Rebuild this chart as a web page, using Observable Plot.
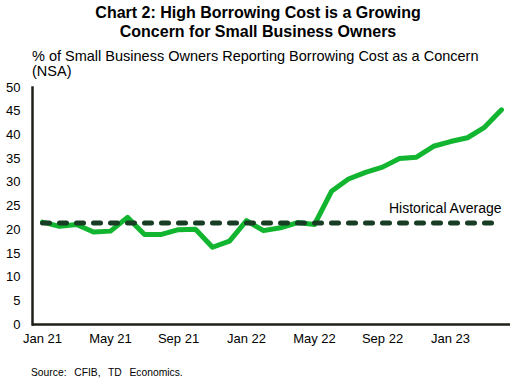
<!DOCTYPE html>
<html>
<head>
<meta charset="utf-8">
<script src="https://cdn.jsdelivr.net/npm/d3@7"></script>
<script src="https://cdn.jsdelivr.net/npm/@observablehq/plot@0.6"></script>
<style>
  html, body { margin: 0; padding: 0; background: #fff; }
  #wrap { position: relative; width: 516px; height: 385px; font-family: Arial, "Liberation Sans", sans-serif; color: #000; }
  #title { position: absolute; left: 0; top: 3px; width: 516px; text-align: center; font-weight: bold; font-size: 16px; line-height: 19px; }
  #subtitle { position: absolute; left: 32px; top: 49px; font-size: 14.5px; line-height: 15.4px; }
  #source { position: absolute; left: 31px; top: 367px; font-size: 10.3px; word-spacing: 1px; }
  #chart { position: absolute; left: 0; top: 0; }
  #chart svg { overflow: visible; }
</style>
</head>
<body>
<div id="wrap">
  <div id="chart"></div>
  <div id="title">Chart 2: High Borrowing Cost is a Growing<br>Concern for Small Business Owners</div>
  <div id="subtitle">% of Small Business Owners Reporting Borrowing Cost as a Concern<br>(NSA)</div>
  <div id="source">Source:&nbsp; CFIB,&nbsp; TD&nbsp; Economics.</div>
</div>
<script>
const months = ["Jan 21","Feb 21","Mar 21","Apr 21","May 21","Jun 21","Jul 21","Aug 21","Sep 21","Oct 21","Nov 21","Dec 21",
                "Jan 22","Feb 22","Mar 22","Apr 22","May 22","Jun 22","Jul 22","Aug 22","Sep 22","Oct 22","Nov 22","Dec 22",
                "Jan 23","Feb 23","Mar 23","Apr 23"];
const borrowingConcern = [21.6,20.7,21.1,19.5,19.7,22.6,19.0,19.0,20.0,20.1,16.3,17.6,
                          21.9,19.8,20.4,21.5,21.1,28.1,30.7,32.1,33.2,35.0,35.3,37.6,
                          38.6,39.4,41.6,45.3];
const historicalAverage = 21.4;
const xTickLabels = ["Jan 21","May 21","Sep 21","Jan 22","May 22","Sep 22","Jan 23"];
const yTicks = [0,5,10,15,20,25,30,35,40,45,50];
const avgLabel = "Historical Average";

const series = months.map((m, i) => ({month: m, value: borrowingConcern[i]}));
const avgSeries = months.map(m => ({month: m, value: historicalAverage}));
const labelData = [{month: months[months.length - 1], value: historicalAverage, label: avgLabel}];

const chart = Plot.plot({
  width: 516,
  height: 385,
  marginLeft: 32,
  marginRight: 6,
  marginTop: 87,
  marginBottom: 61,
  style: {fontFamily: 'Arial, "Liberation Sans", sans-serif', fontSize: "13px", color: "#000", background: "transparent"},
  x: {type: "point", domain: months, padding: 0.5, axis: null, label: null},
  y: {domain: [0, 50], axis: null, label: null},
  marks: [
    Plot.axisY({ticks: yTicks, tickSize: 0, tickPadding: 12, fontSize: 13, fill: "#000", label: null}),
    Plot.axisX({ticks: xTickLabels, tickSize: 0, tickPadding: 9, fontSize: 13, fill: "#000", label: null}),
    Plot.lineY(series, {x: "month", y: "value", stroke: "#12b52f", strokeWidth: 5, strokeLinejoin: "round", strokeLinecap: "round"}),
    Plot.lineY(avgSeries, {x: "month", y: "value", stroke: "#173d25", strokeWidth: 5, strokeDasharray: "7,10", strokeLinecap: "round"}),
    Plot.text(labelData, {x: "month", y: "value", text: "label", textAnchor: "end", dy: -15, fontSize: 14, fill: "#000"}),
    Plot.ruleY([0], {stroke: "#1c1f17", strokeWidth: 2.5}),
    Plot.frame({anchor: "left", stroke: "#1c1f17", strokeWidth: 2.5})
  ]
});
document.getElementById("chart").appendChild(chart);
</script>
</body>
</html>
